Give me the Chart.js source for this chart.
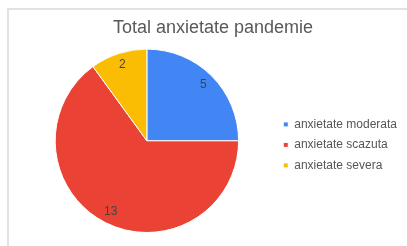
<!DOCTYPE html>
<html>
<head>
<meta charset="utf-8">
<script src="https://cdn.jsdelivr.net/npm/chart.js@4"></script>
<style>
  html, body { margin: 0; padding: 0; background: #fff; }
  #wrap { position: relative; width: 407px; height: 246px; overflow: hidden; }
  #frame {
    position: absolute; left: 7px; top: 8px; right: -4px; bottom: -4px;
    border-top: 2px solid #e2e2e2; border-left: 2px solid #e2e2e2;
  }
  #chart { position: absolute; left: 0; top: 0; }
</style>
</head>
<body>
<div id="wrap">
  <div id="frame"></div>
  <canvas id="chart" width="407" height="246"></canvas>
</div>
<script>
// chart data
const categories = ['anxietate moderata', 'anxietate scazuta', 'anxietate severa'];
const counts = [5, 13, 2];
const sliceColors = ['#4285f4', '#ea4335', '#fbbc04'];
const chartTitle = 'Total anxietate pandemie';

// draw the value inside each slice, near the rim
const sliceValues = {
  id: 'sliceValues',
  afterDatasetsDraw(chart) {
    const ctx = chart.ctx;
    const meta = chart.getDatasetMeta(0);
    ctx.save();
    ctx.font = '12px Arial, "Liberation Sans", sans-serif';
    ctx.fillStyle = '#444';
    ctx.textAlign = 'center';
    ctx.textBaseline = 'middle';
    meta.data.forEach((arc, i) => {
      const mid = (arc.startAngle + arc.endAngle) / 2;
      const r = arc.outerRadius * 0.87;
      ctx.fillText(String(counts[i]), arc.x + Math.cos(mid) * r, arc.y + Math.sin(mid) * r);
    });
    ctx.restore();
  }
};

const ctx = document.getElementById('chart').getContext('2d');
const pieChart = new Chart(ctx, {
  type: 'pie',
  data: {
    labels: categories,
    datasets: [{
      data: counts,
      backgroundColor: sliceColors,
      borderColor: '#ffffff',
      borderWidth: 1
    }]
  },
  options: {
    responsive: false,
    animation: false,
    layout: { padding: { left: 19, right: 0, top: 0, bottom: 13 } },
    plugins: {
      title: {
        display: true,
        text: chartTitle,
        color: '#595959',
        font: { family: 'Arial, "Liberation Sans", sans-serif', size: 18, weight: 'normal' },
        padding: { top: 17, bottom: 10 }
      },
      legend: {
        position: 'right',
        fullSize: false,
        title: {
          // empty title only nudges the items down a little
          display: true,
          text: ' ',
          font: { size: 1 },
          padding: { top: 0, bottom: 7 }
        },
        labels: {
          boxWidth: 5,
          boxHeight: 5,
          padding: 8.5,
          color: '#555',
          font: { family: 'Arial, "Liberation Sans", sans-serif', size: 12 }
        }
      },
      tooltip: { enabled: false }
    }
  },
  plugins: [sliceValues]
});
</script>
</body>
</html>
